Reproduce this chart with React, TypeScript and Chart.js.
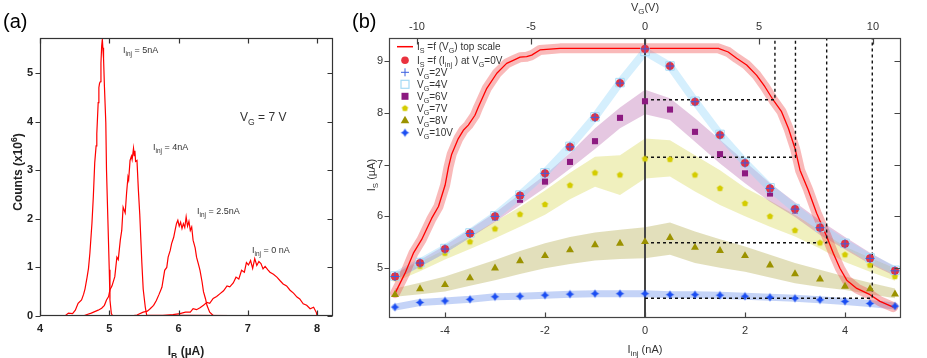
import React, { useEffect, useRef } from 'react';
import { Chart, registerables } from 'chart.js';

Chart.register(...registerables);

const FONT = '"Liberation Sans", Arial, Helvetica, sans-serif';

// ---------- Panel (a): histogram of I_B for several I_inj ----------
const ibTicks = [4, 5, 6, 7, 8];
const countTicks = [0, 1, 2, 3, 4, 5];

const ib5nA = [4.00, 4.36, 4.41, 4.47, 4.51, 4.55, 4.60, 4.63, 4.65, 4.68, 4.70, 4.72, 4.75, 4.77, 4.79, 4.81, 4.82, 4.84, 4.85, 4.86, 4.87, 4.88, 4.89, 4.90, 4.91, 4.915, 4.92, 4.93, 4.95, 4.96, 4.98, 5.00, 5.01, 5.03, 5.05, 8.00];
const counts5nA = [0, 0, 0.06, 0.05, 0.12, 0.26, 0.33, 0.45, 0.56, 0.80, 0.98, 1.29, 1.91, 2.46, 3.15, 3.50, 3.75, 4.39, 4.70, 4.79, 4.82, 5.20, 5.55, 5.70, 5.45, 5.52, 5.30, 4.73, 3.98, 3.01, 1.98, 0.95, 0.33, 0.05, 0, 0];

const ib4nA = [4.00, 4.62, 4.68, 4.74, 4.79, 4.84, 4.89, 4.93, 4.96, 4.99, 5.01, 5.04, 5.08, 5.11, 5.13, 5.16, 5.18, 5.20, 5.23, 5.25, 5.27, 5.28, 5.30, 5.32, 5.33, 5.35, 5.36, 5.37, 5.38, 5.40, 5.42, 5.44, 5.47, 5.49, 5.52, 5.54, 8.00];
const counts4nA = [0, 0, 0.03, 0.06, 0.09, 0.12, 0.16, 0.22, 0.33, 0.40, 0.54, 0.62, 0.81, 1.21, 1.16, 1.57, 1.76, 2.24, 2.12, 2.53, 2.86, 2.80, 3.20, 3.29, 3.22, 3.45, 3.30, 3.40, 3.18, 3.20, 2.60, 2.10, 1.10, 0.55, 0.18, 0.02, 0];

const ib25nA = [4.00, 5.30, 5.40, 5.49, 5.55, 5.59, 5.64, 5.68, 5.72, 5.76, 5.80, 5.83, 5.85, 5.88, 5.90, 5.93, 5.95, 5.97, 5.99, 6.01, 6.03, 6.05, 6.07, 6.09, 6.11, 6.13, 6.15, 6.17, 6.19, 6.21, 6.24, 6.26, 6.29, 6.31, 6.34, 6.36, 6.39, 6.41, 6.45, 6.50, 8.00];
const counts25nA = [0, 0, 0.02, 0.08, 0.10, 0.15, 0.22, 0.32, 0.45, 0.59, 0.94, 1.00, 1.21, 1.35, 1.49, 1.62, 1.76, 1.90, 1.97, 1.85, 1.93, 1.80, 1.90, 1.82, 2.04, 1.85, 1.95, 1.76, 1.83, 1.56, 1.40, 1.21, 1.05, 0.94, 0.70, 0.50, 0.35, 0.22, 0.08, 0.01, 0];

const ib0nA = [4.00, 5.70, 5.92, 6.02, 6.10, 6.17, 6.21, 6.26, 6.31, 6.36, 6.41, 6.45, 6.50, 6.55, 6.60, 6.65, 6.70, 6.74, 6.79, 6.83, 6.87, 6.91, 6.95, 6.98, 7.01, 7.04, 7.07, 7.10, 7.13, 7.16, 7.19, 7.22, 7.25, 7.29, 7.32, 7.37, 7.42, 7.47, 7.51, 7.56, 7.61, 7.66, 7.71, 7.75, 7.80, 7.85, 7.90, 7.95, 7.99, 8.00];
const counts0nA = [0, 0, 0.03, 0.05, 0.08, 0.08, 0.15, 0.13, 0.17, 0.22, 0.28, 0.26, 0.36, 0.40, 0.46, 0.52, 0.62, 0.60, 0.68, 0.80, 0.76, 0.94, 0.90, 1.10, 1.05, 1.14, 0.98, 1.18, 1.04, 1.12, 1.08, 0.97, 1.02, 0.95, 0.90, 0.86, 0.80, 0.72, 0.66, 0.62, 0.53, 0.47, 0.39, 0.35, 0.25, 0.22, 0.15, 0.18, 0.07, 0];

// ---------- Panel (b): I_S vs I_inj (bottom) and vs V_G (top) ----------
const injTicks = [-4, -2, 0, 2, 4];
const vgTicks = [-10, -5, 0, 5, 10];
const isTicks = [5, 6, 7, 8, 9];

const iinj = [-5, -4.5, -4, -3.5, -3, -2.5, -2, -1.5, -1, -0.5, 0, 0.5, 1, 1.5, 2, 2.5, 3, 3.5, 4, 4.5, 5];
const isVg0 = [4.84, 5.10, 5.37, 5.67, 6.00, 6.40, 6.83, 7.34, 7.91, 8.57, 9.23, 8.90, 8.21, 7.57, 7.03, 6.54, 6.14, 5.78, 5.47, 5.19, 4.95];
const isVg2 = [4.84, 5.10, 5.37, 5.67, 6.00, 6.40, 6.83, 7.34, 7.91, 8.57, 9.23, 8.90, 8.21, 7.57, 7.03, 6.54, 6.14, 5.78, 5.47, 5.19, 4.95];
const isVg4 = [4.85, 5.11, 5.38, 5.68, 6.01, 6.41, 6.84, 7.35, 7.92, 8.58, 9.18, 8.90, 8.22, 7.58, 7.04, 6.55, 6.15, 5.79, 5.48, 5.20, 4.96];
const isVg6 = [4.84, 5.10, 5.37, 5.67, 5.97, 6.32, 6.67, 7.05, 7.45, 7.90, 8.22, 8.06, 7.63, 7.20, 6.83, 6.44, 6.11, 5.76, 5.47, 5.18, 4.95];
const isVg6Hi = [4.90, 5.16, 5.44, 5.75, 6.07, 6.43, 6.80, 7.22, 7.70, 8.10, 8.44, 8.28, 7.89, 7.48, 7.06, 6.64, 6.27, 5.92, 5.60, 5.30, 5.03];
const isVg6Lo = [4.78, 5.03, 5.29, 5.59, 5.89, 6.22, 6.55, 6.92, 7.30, 7.70, 7.97, 7.86, 7.44, 7.02, 6.64, 6.28, 5.99, 5.64, 5.36, 5.08, 4.85];
const isVg7 = [4.81, 5.04, 5.29, 5.51, 5.76, 6.04, 6.23, 6.60, 6.84, 6.80, 7.11, 7.10, 6.80, 6.54, 6.25, 6.00, 5.73, 5.49, 5.26, 5.06, 4.84];
const isVg7Hi = [4.90, 5.12, 5.36, 5.62, 5.90, 6.18, 6.50, 6.84, 7.15, 7.18, 7.50, 7.47, 7.18, 6.89, 6.55, 6.30, 6.03, 5.73, 5.42, 5.20, 5.00];
const isVg7Lo = [4.74, 4.94, 5.17, 5.37, 5.58, 5.80, 6.03, 6.33, 6.57, 6.41, 6.73, 6.77, 6.48, 6.22, 6.00, 5.80, 5.61, 5.38, 5.12, 4.93, 4.76];
const isVg8 = [4.49, 4.60, 4.68, 4.81, 5.00, 5.14, 5.24, 5.35, 5.45, 5.48, 5.51, 5.59, 5.40, 5.34, 5.24, 5.06, 4.89, 4.79, 4.65, 4.60, 4.50];
const isVg8Hi = [4.61, 4.72, 4.84, 5.00, 5.16, 5.33, 5.48, 5.60, 5.69, 5.74, 5.79, 5.88, 5.71, 5.56, 5.42, 5.26, 5.10, 4.97, 4.84, 4.72, 4.61];
const isVg8Lo = [4.45, 4.50, 4.55, 4.66, 4.77, 4.89, 5.00, 5.08, 5.15, 5.18, 5.19, 5.26, 5.10, 5.01, 4.93, 4.82, 4.71, 4.64, 4.58, 4.50, 4.42];
const isVg10 = [4.25, 4.34, 4.37, 4.40, 4.45, 4.46, 4.48, 4.50, 4.51, 4.51, 4.51, 4.49, 4.49, 4.48, 4.46, 4.44, 4.42, 4.39, 4.36, 4.32, 4.27];

const vgCurve = [-10.96, -10.53, -10.16, -9.80, -9.36, -9.06, -8.77, -8.62, -8.48, -8.19, -7.97, -7.75, -7.46, -7.31, -6.94, -6.50, -6.07, -5.78, -5.48, -5.19, -4.97, -4.61, -3.73, 3.22, 3.65, 4.02, 4.46, 4.90, 5.26, 5.63, 5.99, 6.29, 6.58, 6.80, 7.16, 7.53, 7.97, 8.26, 8.55, 8.85, 9.29, 9.87, 10.31, 10.89];
const isCurve = [4.52, 4.90, 5.29, 5.55, 5.96, 6.19, 6.60, 6.95, 7.20, 7.50, 7.66, 7.76, 7.95, 8.11, 8.47, 8.76, 8.95, 9.01, 9.07, 9.08, 9.11, 9.21, 9.24, 9.24, 9.17, 9.05, 8.92, 8.72, 8.50, 8.24, 8.02, 7.70, 7.31, 6.89, 6.51, 6.06, 5.61, 5.29, 5.00, 4.77, 4.61, 4.49, 4.36, 4.25];

// dashed guide lines: gate voltage where the top-scale curve reaches each level
const guideVg = [5.70, 6.60, 7.97, 9.97];
const guideIs = [8.25, 7.14, 5.49, 4.42];

type Seg = { t: string; s?: 'sub' | 'sup' };

function segFont(seg: Seg, size: number, weight: string) {
  const sz = seg.s ? size * 0.72 : size;
  return `${weight} ${sz}px ${FONT}`;
}
function richWidth(ctx: CanvasRenderingContext2D, segs: Seg[], size: number, weight: string) {
  let w = 0;
  for (const s of segs) { ctx.font = segFont(s, size, weight); w += ctx.measureText(s.t).width; }
  return w;
}
function drawRich(ctx: CanvasRenderingContext2D, segs: Seg[], x: number, y: number, size: number,
  weight = 'normal', color = '#333', align: 'left' | 'center' | 'right' = 'left') {
  const w = richWidth(ctx, segs, size, weight);
  let cx = align === 'center' ? x - w / 2 : align === 'right' ? x - w : x;
  ctx.fillStyle = color;
  ctx.textAlign = 'left';
  ctx.textBaseline = 'alphabetic';
  for (const s of segs) {
    ctx.font = segFont(s, size, weight);
    const dy = s.s === 'sub' ? size * 0.3 : s.s === 'sup' ? -size * 0.45 : 0;
    ctx.fillText(s.t, cx, y + dy);
    cx += ctx.measureText(s.t).width;
  }
}
function drawRotated(ctx: CanvasRenderingContext2D, segs: Seg[], x: number, y: number, size: number, weight = 'normal', color = '#333') {
  ctx.save();
  ctx.translate(x, y);
  ctx.rotate(-Math.PI / 2);
  drawRich(ctx, segs, 0, size * 0.35, size, weight, color, 'center');
  ctx.restore();
}

function makePentagon(color: string, r: number) {
  const s = Math.ceil(r * 2 + 2);
  const c = document.createElement('canvas');
  c.width = s; c.height = s;
  const g = c.getContext('2d')!;
  g.fillStyle = color;
  g.beginPath();
  for (let i = 0; i < 5; i++) {
    const a = -Math.PI / 2 + (i * 2 * Math.PI) / 5;
    const px = s / 2 + r * Math.cos(a), py = s / 2 + r * Math.sin(a);
    if (i === 0) g.moveTo(px, py); else g.lineTo(px, py);
  }
  g.closePath();
  g.fill();
  return c;
}
function makeStar(color: string, r: number) {
  const s = Math.ceil(r * 2 + 2);
  const c = document.createElement('canvas');
  c.width = s; c.height = s;
  const g = c.getContext('2d')!;
  const k = r * 0.38, m = s / 2;
  const pts = [[0, -r], [k, -k], [r, 0], [k, k], [0, r], [-k, k], [-r, 0], [-k, -k]];
  g.fillStyle = color;
  g.beginPath();
  pts.forEach(([px, py], i) => (i === 0 ? g.moveTo(m + px, m + py) : g.lineTo(m + px, m + py)));
  g.closePath();
  g.fill();
  return c;
}

const xy = (xs: number[], ys: number[]) => xs.map((x, i) => ({ x, y: ys[i] }));

const RED = '#ff0000';
const C_RED_PT = '#e9323f';
const C_BLUE_PLUS = '#3a5fe0';
const C_LBLUE = '#a6dbf6';
const C_PURPLE = '#8c1a80';
const C_YELLOW = '#d4cc00';
const C_OLIVE = '#9b9200';
const C_STAR = '#1a4df2';

export default function App() {
  const refA = useRef<HTMLCanvasElement>(null);
  const refB = useRef<HTMLCanvasElement>(null);

  useEffect(() => {
    Chart.defaults.font.family = FONT;
    const pent = makePentagon(C_YELLOW, 3.3);
    const star = makeStar(C_STAR, 4.2);

    // ---------------- Panel (a) ----------------
    const panelA = {
      id: 'panelA',
      afterDraw(chart: any) {
        const { ctx, chartArea: ca, scales } = chart;
        const sx = scales.x, sy = scales.y;
        ctx.save();
        ctx.strokeStyle = '#333';
        ctx.lineWidth = 1.2;
        const L = Math.round(ca.left) + 0.5, R = Math.round(ca.right) - 0.5;
        const T = Math.round(ca.top) + 0.5, B = Math.round(ca.bottom) - 0.5;
        ctx.strokeRect(L, T, R - L, B - T);
        ctx.beginPath();
        ibTicks.forEach((v) => {
          const px = Math.round(sx.getPixelForValue(v)) + 0.5;
          ctx.moveTo(px, B); ctx.lineTo(px, B - 5);
          ctx.moveTo(px, T); ctx.lineTo(px, T + 5);
        });
        countTicks.forEach((v) => {
          const py = Math.round(sy.getPixelForValue(v)) + 0.5;
          ctx.moveTo(L, py); ctx.lineTo(L - 5, py);
          ctx.moveTo(R, py); ctx.lineTo(R - 5, py);
        });
        ctx.stroke();

        drawRich(ctx, [{ t: '(a)' }], 3, 28, 20, 'normal', '#000');
        drawRotated(ctx, [{ t: 'Counts (x10' }, { t: '6', s: 'sup' }, { t: ')' }], 18, 172, 12, 'bold', '#222');
        drawRich(ctx, [{ t: 'I' }, { t: 'B', s: 'sub' }, { t: ' (µA)' }], 186, 355, 12, 'bold', '#222', 'center');

        const ann = (lbl: string, x: number, y: number) =>
          drawRich(ctx, [{ t: 'I' }, { t: 'inj', s: 'sub' }, { t: lbl }], x, y, 9, 'normal', '#333');
        ann(' = 5nA', 123, 53);
        ann(' = 4nA', 153, 150);
        ann(' = 2.5nA', 197, 214);
        ann(' = 0 nA', 252, 253);
        drawRich(ctx, [{ t: 'V' }, { t: 'G', s: 'sub' }, { t: ' = 7 V' }], 240, 121, 12, 'normal', '#333');
        ctx.restore();
      },
    };

    const lineDs = (xs: number[], ys: number[]) => ({
      data: xy(xs, ys), showLine: true, borderColor: RED, borderWidth: 1.2,
      pointRadius: 0, tension: 0, fill: false,
    });

    const chartA = new Chart(refA.current!, {
      type: 'scatter',
      data: {
        datasets: [
          lineDs(ib5nA, counts5nA),
          lineDs(ib4nA, counts4nA),
          lineDs(ib25nA, counts25nA),
          lineDs(ib0nA, counts0nA),
        ] as any,
      },
      options: {
        responsive: false,
        animation: false,
        devicePixelRatio: 1,
        events: [],
        layout: { padding: { left: 0, right: 12, top: 38, bottom: 0 } },
        plugins: { legend: { display: false }, tooltip: { enabled: false } },
        scales: {
          x: {
            type: 'linear', position: 'bottom', min: 4, max: 8.23,
            afterFit: (s: any) => { s.height = 42; },
            afterBuildTicks: (s: any) => { s.ticks = ibTicks.map((v) => ({ value: v })); },
            grid: { display: false, drawTicks: false }, border: { display: false },
            ticks: { padding: 6, color: '#222', font: { size: 11, weight: 'bold' } },
          },
          y: {
            type: 'linear', position: 'left', min: 0, max: 5.72,
            afterFit: (s: any) => { s.width = 40; },
            afterBuildTicks: (s: any) => { s.ticks = countTicks.map((v) => ({ value: v })); },
            grid: { display: false, drawTicks: false }, border: { display: false },
            ticks: { padding: 7, color: '#222', font: { size: 11, weight: 'bold' } },
          },
        } as any,
      },
      plugins: [panelA],
    });

    // ---------------- Panel (b) ----------------
    const legendRows = [46.7, 60.3, 72.3, 84.3, 96.3, 108.3, 120.3, 132.7];
    const legendTexts: Seg[][] = [
      [{ t: 'I' }, { t: 'S', s: 'sub' }, { t: ' =f (V' }, { t: 'G', s: 'sub' }, { t: ') top scale' }],
      [{ t: 'I' }, { t: 'S', s: 'sub' }, { t: ' =f (I' }, { t: 'inj', s: 'sub' }, { t: ' ) at V' }, { t: 'G', s: 'sub' }, { t: '=0V' }],
      [{ t: 'V' }, { t: 'G', s: 'sub' }, { t: '=2V' }],
      [{ t: 'V' }, { t: 'G', s: 'sub' }, { t: '=4V' }],
      [{ t: 'V' }, { t: 'G', s: 'sub' }, { t: '=6V' }],
      [{ t: 'V' }, { t: 'G', s: 'sub' }, { t: '=7V' }],
      [{ t: 'V' }, { t: 'G', s: 'sub' }, { t: '=8V' }],
      [{ t: 'V' }, { t: 'G', s: 'sub' }, { t: '=10V' }],
    ];

    const panelB = {
      id: 'panelB',
      afterDraw(chart: any) {
        const { ctx, chartArea: ca, scales } = chart;
        const sx = scales.x, sx2 = scales.x2, sy = scales.y;
        ctx.save();
        ctx.strokeStyle = '#444';
        ctx.lineWidth = 1.2;
        const L = Math.round(ca.left) + 0.5, R = Math.round(ca.right) - 0.5;
        const T = Math.round(ca.top) + 0.5, B = Math.round(ca.bottom) - 0.5;
        ctx.strokeRect(L, T, R - L, B - T);
        ctx.beginPath();
        injTicks.forEach((v) => {
          const px = Math.round(sx.getPixelForValue(v)) + 0.5;
          ctx.moveTo(px, B); ctx.lineTo(px, B - 5);
        });
        vgTicks.forEach((v) => {
          const px = Math.round(sx2.getPixelForValue(v)) + 0.5;
          ctx.moveTo(px, T); ctx.lineTo(px, T + 6);
        });
        isTicks.forEach((v) => {
          const py = Math.round(sy.getPixelForValue(v)) + 0.5;
          ctx.moveTo(L, py); ctx.lineTo(L - 5, py);
          ctx.moveTo(R, py); ctx.lineTo(R - 6, py);
        });
        ctx.stroke();

        drawRich(ctx, [{ t: '(b)' }], 7, 28, 20, 'normal', '#000');
        drawRich(ctx, [{ t: 'V' }, { t: 'G', s: 'sub' }, { t: '(V)' }], 300, 11, 11, 'normal', '#333', 'center');
        drawRich(ctx, [{ t: 'I' }, { t: 'inj', s: 'sub' }, { t: ' (nA)' }], 300, 353, 11, 'normal', '#333', 'center');
        drawRotated(ctx, [{ t: 'I' }, { t: 'S', s: 'sub' }, { t: ' (µA)' }], 26, 175, 11, 'normal', '#333');

        // legend
        const mx = 60, tx = 72;
        legendRows.forEach((y, i) => {
          ctx.save();
          switch (i) {
            case 0:
              ctx.strokeStyle = RED; ctx.lineWidth = 1.5;
              ctx.beginPath(); ctx.moveTo(52, y); ctx.lineTo(68, y); ctx.stroke();
              break;
            case 1:
              ctx.fillStyle = C_RED_PT; ctx.beginPath(); ctx.arc(mx, y, 3.8, 0, Math.PI * 2); ctx.fill();
              break;
            case 2:
              ctx.strokeStyle = C_BLUE_PLUS; ctx.lineWidth = 1;
              ctx.beginPath(); ctx.moveTo(mx - 4, y); ctx.lineTo(mx + 4, y); ctx.moveTo(mx, y - 4); ctx.lineTo(mx, y + 4); ctx.stroke();
              break;
            case 3:
              ctx.strokeStyle = C_LBLUE; ctx.lineWidth = 1.2;
              ctx.strokeRect(mx - 4, y - 4, 8, 8);
              break;
            case 4:
              ctx.fillStyle = C_PURPLE; ctx.fillRect(mx - 3.5, y - 3.5, 7, 7);
              break;
            case 5:
              ctx.drawImage(pent, mx - pent.width / 2, y - pent.height / 2);
              break;
            case 6:
              ctx.fillStyle = C_OLIVE; ctx.beginPath();
              ctx.moveTo(mx, y - 4.5); ctx.lineTo(mx + 4.3, y + 3); ctx.lineTo(mx - 4.3, y + 3); ctx.closePath(); ctx.fill();
              break;
            case 7:
              ctx.drawImage(star, mx - star.width / 2, y - star.height / 2);
              break;
          }
          ctx.restore();
          drawRich(ctx, legendTexts[i], tx, y + 3.6, 10, 'normal', '#333');
        });
        ctx.restore();
      },
    };

    const band = (hi: number[], lo: number[], color: string, order: number) => [
      { data: xy(iinj, hi), showLine: true, borderWidth: 0, pointRadius: 0, fill: '+1', backgroundColor: color, borderColor: 'rgba(0,0,0,0)', order },
      { data: xy(iinj, lo), showLine: true, borderWidth: 0, pointRadius: 0, fill: false, borderColor: 'rgba(0,0,0,0)', order },
    ];
    const thick = (xs: number[], ys: number[], color: string, width: number, order: number, axis = 'x') => ({
      data: xy(xs, ys), xAxisID: axis, showLine: true, borderColor: color, borderWidth: width,
      pointRadius: 0, fill: false, borderCapStyle: 'round', borderJoinStyle: 'round', order,
    });
    const marks = (ys: number[], extra: any, order: number) => ({
      data: xy(iinj, ys), showLine: false, order, ...extra,
    });
    const guides = guideVg.map((v, i) => ({
      data: [{ x: 0, y: guideIs[i] }, { x: v, y: guideIs[i] }, { x: v, y: 9.44 }],
      xAxisID: 'x2', showLine: true, borderColor: '#111', borderWidth: 1.4, borderDash: [3, 3],
      pointRadius: 0, fill: false, order: 8,
    }));

    const chartB = new Chart(refB.current!, {
      type: 'scatter',
      data: {
        datasets: [
          marks(isVg2, { pointStyle: 'cross', pointRadius: 4.5, borderColor: C_BLUE_PLUS, borderWidth: 1, backgroundColor: C_BLUE_PLUS }, 1),
          marks(isVg0, { pointStyle: 'circle', pointRadius: 3.8, backgroundColor: C_RED_PT, borderColor: '#d42a36', borderWidth: 0.5 }, 2),
          marks(isVg4, { pointStyle: 'rect', pointRadius: 6, backgroundColor: 'rgba(255,255,255,0)', borderColor: C_LBLUE, borderWidth: 1 }, 3),
          marks(isVg6, { pointStyle: 'rect', pointRadius: 4.3, backgroundColor: C_PURPLE, borderColor: C_PURPLE, borderWidth: 0 }, 4),
          marks(isVg7, { pointStyle: pent, pointRadius: 4 }, 5),
          marks(isVg8, { pointStyle: 'triangle', pointRadius: 4.6, backgroundColor: C_OLIVE, borderColor: C_OLIVE, borderWidth: 0 }, 6),
          marks(isVg10, { pointStyle: star, pointRadius: 4 }, 7),
          ...guides,
          thick(vgCurve, isCurve, RED, 1.3, 10, 'x2'),
          { data: [{ x: 0, y: 4.04 }, { x: 0, y: 9.44 }], showLine: true, borderColor: '#444', borderWidth: 2, pointRadius: 0, fill: false, order: 11 },
          thick(vgCurve, isCurve, 'rgba(240,80,80,0.4)', 10, 12, 'x2'),
          thick(iinj, isVg10, 'rgba(100,140,235,0.38)', 7, 13),
          thick(iinj, isVg4, 'rgba(150,215,250,0.4)', 8, 14),
          ...band(isVg6Hi, isVg6Lo, 'rgba(175,85,165,0.33)', 15),
          ...band(isVg7Hi, isVg7Lo, 'rgba(205,205,40,0.3)', 16),
          ...band(isVg8Hi, isVg8Lo, 'rgba(160,150,30,0.3)', 17),
        ] as any,
      },
      options: {
        responsive: false,
        animation: false,
        devicePixelRatio: 1,
        events: [],
        layout: { padding: { left: 0, right: 26, top: 0, bottom: 0 } },
        plugins: { legend: { display: false }, tooltip: { enabled: false } },
        scales: {
          x: {
            type: 'linear', position: 'bottom', min: -5.12, max: 5.12,
            afterFit: (s: any) => { s.height = 40; },
            afterBuildTicks: (s: any) => { s.ticks = injTicks.map((v) => ({ value: v })); },
            grid: { display: false, drawTicks: false }, border: { display: false },
            ticks: { padding: 6, color: '#333', font: { size: 11 } },
          },
          x2: {
            type: 'linear', position: 'top', min: -11.23, max: 11.23,
            afterFit: (s: any) => { s.height = 38; },
            afterBuildTicks: (s: any) => { s.ticks = vgTicks.map((v) => ({ value: v })); },
            grid: { display: false, drawTicks: false }, border: { display: false },
            ticks: { padding: 4, color: '#333', font: { size: 11 } },
          },
          y: {
            type: 'linear', position: 'left', min: 4.04, max: 9.44,
            afterFit: (s: any) => { s.width = 44; },
            afterBuildTicks: (s: any) => { s.ticks = isTicks.map((v) => ({ value: v })); },
            grid: { display: false, drawTicks: false }, border: { display: false },
            ticks: { padding: 6, color: '#333', font: { size: 11 } },
          },
        } as any,
      },
      plugins: [panelB],
    });

    return () => {
      chartA.destroy();
      chartB.destroy();
    };
  }, []);

  return (
    <div style={{ position: 'fixed', left: 0, top: 0, width: 927, height: 358, background: '#fff' }}>
      <canvas ref={refA} width={345} height={358} style={{ position: 'absolute', left: 0, top: 0, width: 345, height: 358 }} />
      <canvas ref={refB} width={582} height={358} style={{ position: 'absolute', left: 345, top: 0, width: 582, height: 358 }} />
    </div>
  );
}
